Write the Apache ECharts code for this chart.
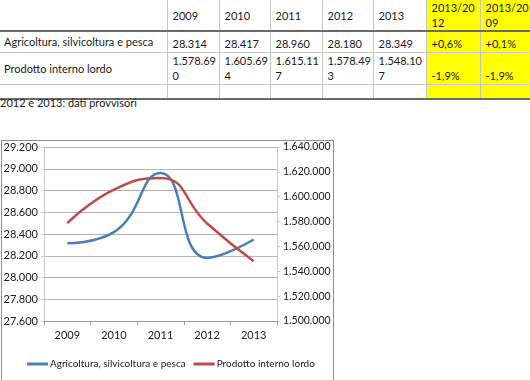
<!DOCTYPE html>
<html><head><meta charset="utf-8">
<script src="https://cdn.jsdelivr.net/npm/echarts@6/dist/echarts.min.js"></script>
<style>
html,body{margin:0;padding:0;background:#fff;}
body{width:530px;height:380px;overflow:hidden;position:relative;font-family:Lato,"Open Sans",sans-serif;color:#1a1a1a;}
#tbl{position:absolute;left:0;top:0;border-collapse:collapse;table-layout:fixed;font-size:11px;}
#tbl td{padding:0 0 0 5px;border-left:1px solid #c6c6c6;border-bottom:1px solid #c6c6c6;line-height:15px;white-space:nowrap;overflow:hidden;}
#tbl td.first{border-left:none;padding-left:4px;}
#tbl tr.head td{border-bottom:2px solid #6a6a6a;vertical-align:middle;}
#tbl tr.last td{border-bottom:2px solid #6a6a6a;}
#tbl td.y{background:#ffff00;}
#tbl td.v{vertical-align:bottom;padding-bottom:1px;}
#tbl td.lab{vertical-align:middle;}
#note{position:absolute;left:0;top:95px;font-size:11px;line-height:16px;}
#box{position:absolute;left:1px;top:140px;width:331px;height:260px;border:1px solid #8e8e8e;}
#chart{position:absolute;left:0;top:140px;width:340px;height:240px;}
</style>
</head><body>
<table id="tbl"></table>
<div id="note"></div>
<div id="box"></div>
<div id="chart"></div>
<script>
// ---- data ----
const years = ['2009', '2010', '2011', '2012', '2013'];
const agri = [28314, 28417, 28960, 28180, 28349];
const pil = [1578690, 1605694, 1615117, 1578493, 1548107];
const seriesNames = ['Agricoltura, silvicoltura e pesca', 'Prodotto interno lordo'];
const changeHeads = ['2013/2012', '2013/2009'];
const agriChanges = ['+0,6%', '+0,1%'];
const pilChanges = ['-1,9%', '-1,9%'];
const noteText = '2012 e 2013: dati provvisori';
const leftAxis = [27600, 29200, 200];
const rightAxis = [1500000, 1640000, 20000];

function fmt(v) { return String(v).replace(/\B(?=(\d{3})+(?!\d))/g, '.'); }
function chunk(s, n) { const out = []; for (let i = 0; i < s.length; i += n) out.push(s.slice(i, i + n)); return out.join('<br>'); }

// ---- table ----
const widths = [167, 52, 51, 52, 51, 53, 54, 50];
const rowH = [30, 21, 29, 15];
let html = '<colgroup>' + widths.map(w => '<col style="width:' + w + 'px">').join('') + '</colgroup>';
html += '<tr class="head" style="height:' + rowH[0] + 'px"><td class="first"></td>' +
  years.map(y => '<td>' + y + '</td>').join('') +
  changeHeads.map(h => '<td class="y">' + chunk(h, 7) + '</td>').join('') + '</tr>';
html += '<tr style="height:' + rowH[1] + 'px"><td class="first lab">' + seriesNames[0] + '</td>' +
  agri.map(v => '<td class="v">' + fmt(v) + '</td>').join('') +
  agriChanges.map(c => '<td class="y v">' + c + '</td>').join('') + '</tr>';
html += '<tr style="height:' + rowH[2] + 'px"><td class="first lab">' + seriesNames[1] + '</td>' +
  pil.map(v => '<td class="v">' + chunk(fmt(v), 8) + '</td>').join('') +
  pilChanges.map(c => '<td class="y v">' + c + '</td>').join('') + '</tr>';
html += '<tr class="last" style="height:' + rowH[3] + 'px"><td class="first"></td>' +
  years.map(() => '<td></td>').join('') + changeHeads.map(() => '<td class="y"></td>').join('') + '</tr>';
document.getElementById('tbl').innerHTML = html;
document.getElementById('note').textContent = noteText;

// ---- chart ----
const chart = echarts.init(document.getElementById('chart'), null, {renderer: 'canvas'});
const font = 'Lato';
const axisCol = '#9a9a9a';
chart.setOption({
  animation: false,
  textStyle: {fontFamily: font},
  grid: {left: 44, top: 7, width: 233, height: 174, containLabel: false},
  legend: {
    left: 22, top: 214, width: 320, itemWidth: 21, itemHeight: 3, itemGap: 8, icon: 'rect',
    textStyle: {fontFamily: font, fontSize: 10, color: '#1a1a1a', padding: [0, 0, 0, -3]},
    data: seriesNames
  },
  xAxis: {
    type: 'category', data: years, boundaryGap: true,
    axisLine: {lineStyle: {color: axisCol}},
    axisTick: {show: true, length: 4, lineStyle: {color: axisCol}},
    axisLabel: {fontSize: 11, color: '#1a1a1a', margin: 9, fontFamily: font}
  },
  yAxis: [
    {type: 'value', min: leftAxis[0], max: leftAxis[1], interval: leftAxis[2], position: 'left',
     axisLine: {show: true, lineStyle: {color: '#c8c8c8'}},
     axisTick: {show: true, length: 3, lineStyle: {color: '#c8c8c8'}},
     splitLine: {show: true, lineStyle: {color: '#b4b4b4'}},
     axisLabel: {fontSize: 11, color: '#1a1a1a', margin: 6, formatter: fmt, fontFamily: font}},
    {type: 'value', min: rightAxis[0], max: rightAxis[1], interval: rightAxis[2], position: 'right',
     axisLine: {show: true, lineStyle: {color: '#c8c8c8'}},
     axisTick: {show: true, length: 3, lineStyle: {color: '#c8c8c8'}},
     splitLine: {show: false},
     axisLabel: {fontSize: 10.5, color: '#1a1a1a', margin: 6, formatter: fmt, fontFamily: font}}
  ],
  series: [
    {name: seriesNames[0], type: 'line', yAxisIndex: 0, data: agri, smooth: 0.5, showSymbol: false, symbol: 'none',
     lineStyle: {color: '#4a7ebb', width: 2.5}, itemStyle: {color: '#4a7ebb'}},
    {name: seriesNames[1], type: 'line', yAxisIndex: 1, data: pil, smooth: 0.5, showSymbol: false, symbol: 'none',
     lineStyle: {color: '#be4b48', width: 2.5}, itemStyle: {color: '#be4b48'}}
  ]
});
</script>
</body></html>
